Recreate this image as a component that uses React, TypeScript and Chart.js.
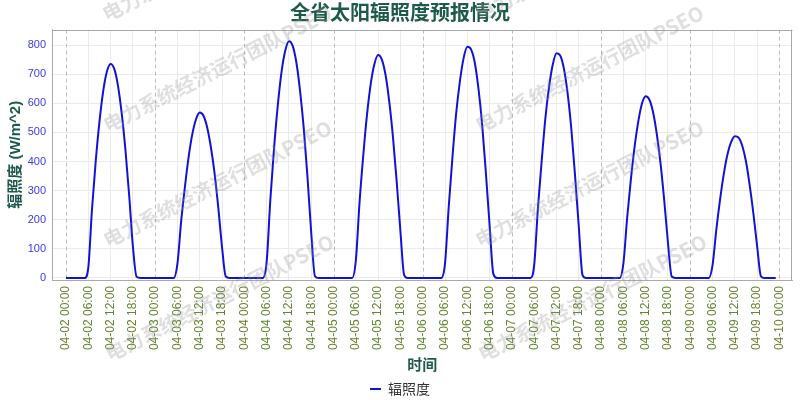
import React, { useEffect, useRef } from 'react';
import { Chart, registerables } from 'chart.js';

Chart.register(...registerables);

const TITLE = '全省太阳辐照度预报情况';
const Y_TITLE = '辐照度 (W/m^2)';
const X_TITLE = '时间';
const SERIES_NAME = '辐照度';
const WATERMARK = '电力系统经济运行团队PSEO';

const TICK_LABELS = [
  '04-02 00:00', '04-02 06:00', '04-02 12:00', '04-02 18:00',
  '04-03 00:00', '04-03 06:00', '04-03 12:00', '04-03 18:00',
  '04-04 00:00', '04-04 06:00', '04-04 12:00', '04-04 18:00',
  '04-05 00:00', '04-05 06:00', '04-05 12:00', '04-05 18:00',
  '04-06 00:00', '04-06 06:00', '04-06 12:00', '04-06 18:00',
  '04-07 00:00', '04-07 06:00', '04-07 12:00', '04-07 18:00',
  '04-08 00:00', '04-08 06:00', '04-08 12:00', '04-08 18:00',
  '04-09 00:00', '04-09 06:00', '04-09 12:00', '04-09 18:00',
  '04-10 00:00',
];

const Y_TICKS = [0, 100, 200, 300, 400, 500, 600, 700, 800];

// hourly irradiance, 00:00 .. 23:00 for each day
const DAY_0402 = [0, 0, 0, 0, 0, 0, 35, 235, 400, 535, 640, 708, 735, 718, 660, 565, 440, 285, 110, 4, 0, 0, 0, 0];
const DAY_0403 = [0, 0, 0, 0, 0, 0, 50, 195, 312, 415, 494, 545, 568, 557, 517, 449, 358, 240, 105, 5, 0, 0, 0, 0];
const DAY_0404 = [0, 0, 0, 0, 0, 0, 55, 270, 447, 593, 707, 780, 813, 797, 740, 642, 512, 345, 155, 6, 0, 0, 0, 0];
const DAY_0405 = [0, 0, 0, 0, 0, 0, 60, 260, 421, 560, 666, 735, 766, 750, 697, 605, 483, 330, 160, 10, 0, 0, 0, 0];
const DAY_0406 = [0, 0, 0, 0, 0, 0, 50, 245, 415, 565, 675, 755, 794, 785, 740, 650, 525, 360, 180, 14, 0, 0, 0, 0];
const DAY_0407 = [0, 0, 0, 0, 0, 0, 45, 240, 400, 548, 656, 733, 772, 764, 718, 633, 510, 350, 175, 10, 0, 0, 0, 0];
const DAY_0408 = [0, 0, 0, 0, 0, 0, 50, 205, 337, 449, 537, 599, 624, 612, 568, 493, 393, 265, 120, 5, 0, 0, 0, 0];
const DAY_0409 = [0, 0, 0, 0, 0, 0, 45, 165, 268, 356, 424, 467, 487, 482, 453, 399, 317, 219, 108, 6, 0, 0, 0, 0];

const IRRADIANCE = [
  ...DAY_0402, ...DAY_0403, ...DAY_0404, ...DAY_0405,
  ...DAY_0406, ...DAY_0407, ...DAY_0408, ...DAY_0409,
];

const FONT = "'Liberation Sans', 'Noto Sans CJK SC', sans-serif";
const CJK = "'Noto Sans CJK SC', 'Liberation Sans', sans-serif";
const LINE_COLOR = '#1212d6';
const TITLE_COLOR = '#1e5a4a';

const framePlugin = {
  id: 'frameAndDays',
  beforeDatasetsDraw(chart: any) {
    const { ctx, chartArea, scales } = chart;
    const xs = scales.x;
    ctx.save();
    ctx.beginPath();
    ctx.rect(chartArea.left, chartArea.top, chartArea.right - chartArea.left, chartArea.bottom - chartArea.top);
    ctx.clip();
    ctx.strokeStyle = '#bdbdbd';
    ctx.lineWidth = 1;
    ctx.setLineDash([4, 3]);
    TICK_LABELS.forEach((_, i) => {
      if (i % 4 !== 0) return;
      const px = Math.round(xs.getPixelForValue(i * 6)) + 0.5;
      ctx.beginPath();
      ctx.moveTo(px, chartArea.top);
      ctx.lineTo(px, chartArea.bottom);
      ctx.stroke();
    });
    ctx.restore();
    ctx.save();
    ctx.strokeStyle = '#aaaaaa';
    ctx.lineWidth = 1;
    ctx.beginPath();
    ctx.moveTo(chartArea.left, Math.round(chartArea.top) + 0.5);
    ctx.lineTo(chartArea.right, Math.round(chartArea.top) + 0.5);
    ctx.moveTo(Math.round(chartArea.right) - 0.5, chartArea.top);
    ctx.lineTo(Math.round(chartArea.right) - 0.5, chartArea.bottom);
    ctx.stroke();
    ctx.restore();
  },
  afterDraw(chart: any) {
    const { ctx } = chart;
    const spots = [
      [107, 22], [480, 22],
      [108, 133], [480, 133],
      [108, 248], [480, 248],
      [110, 362], [483, 362],
    ];
    ctx.save();
    ctx.fillStyle = 'rgba(150,150,150,0.3)';
    ctx.font = `bold 20px ${CJK}`;
    ctx.textBaseline = 'alphabetic';
    spots.forEach(([x, y]) => {
      ctx.save();
      ctx.translate(x, y);
      ctx.rotate((-27 * Math.PI) / 180);
      ctx.fillText(WATERMARK, 0, 0);
      ctx.restore();
    });
    ctx.restore();
  },
};

export default function App() {
  const ref = useRef<HTMLCanvasElement | null>(null);
  useEffect(() => {
    if (!ref.current) return;
    Chart.defaults.font.family = FONT;
    const chart = new Chart(ref.current, {
      type: 'line',
      data: {
        datasets: [
          {
            label: SERIES_NAME,
            data: IRRADIANCE.map((v, i) => ({ x: i, y: v })),
            borderColor: LINE_COLOR,
            backgroundColor: LINE_COLOR,
            borderWidth: 2,
            pointRadius: 0,
            fill: false,
            cubicInterpolationMode: 'monotone',
            yAxisID: 'y',
          },
        ],
      },
      options: {
        responsive: false,
        animation: false,
        layout: { padding: { left: 0, right: 0, top: 0, bottom: -6 } },
        plugins: {
          title: {
            display: true,
            text: TITLE,
            color: TITLE_COLOR,
            font: { size: 20, weight: 'bold', family: CJK },
            padding: { top: 0, bottom: 5.6 },
          },
          legend: {
            display: true,
            position: 'bottom',
            labels: {
              boxWidth: 11,
              boxHeight: 2,
              padding: 6,
              color: '#333333',
              font: { size: 14, family: CJK },
              generateLabels: (c: any) =>
                (Chart.defaults.plugins.legend.labels as any)
                  .generateLabels(c)
                  .map((l: any) => ({ ...l, lineWidth: 0, fillStyle: LINE_COLOR })),
            },
          },
          tooltip: { enabled: false },
        },
        scales: {
          x: {
            type: 'linear',
            min: -3.76,
            max: 195.5,
            afterBuildTicks: (s: any) => {
              s.ticks = TICK_LABELS.map((_, i) => ({ value: i * 6 }));
            },
            afterFit: (s: any) => {
              s.height = 96;
            },
            ticks: {
              autoSkip: false,
              minRotation: 90,
              maxRotation: 90,
              padding: 6,
              color: '#65852f',
              font: { size: 12 },
              callback: (v: any) => TICK_LABELS[Math.round(Number(v) / 6)] ?? '',
            },
            grid: {
              drawTicks: false,
              color: (c: any) =>
                c.tick && Math.round(c.tick.value) % 24 === 0 ? 'rgba(0,0,0,0)' : '#ebebeb',
            },
            border: { display: true, color: '#aaaaaa' },
            title: {
              display: true,
              text: X_TITLE,
              color: TITLE_COLOR,
              font: { size: 15, weight: 'bold', family: CJK },
              padding: { top: 0, bottom: 3 },
            },
          },
          y: {
            min: -7,
            max: 853,
            afterBuildTicks: (s: any) => {
              s.ticks = Y_TICKS.map((v) => ({ value: v }));
            },
            afterFit: (s: any) => {
              s.width = 52;
            },
            ticks: {
              padding: 6,
              color: '#3a3ae0',
              font: { size: 11 },
            },
            grid: { drawTicks: false, color: '#ebebeb' },
            border: { display: true, color: '#aaaaaa' },
            title: {
              display: true,
              text: Y_TITLE,
              color: TITLE_COLOR,
              font: { size: 15, weight: 'bold' },
              padding: { top: 7, bottom: 0 },
            },
          },
          yPad: {
            position: 'right',
            display: true,
            afterFit: (s: any) => {
              s.width = 7;
            },
            ticks: { display: false },
            grid: { display: false, drawTicks: false },
            border: { display: false },
          },
        },
      } as any,
      plugins: [framePlugin],
    });
    return () => chart.destroy();
  }, []);
  return (
    <div style={{ position: 'fixed', left: 0, top: 0, width: 800, height: 400, background: '#fff' }}>
      <canvas ref={ref} width={800} height={400} style={{ display: 'block' }} />
    </div>
  );
}
